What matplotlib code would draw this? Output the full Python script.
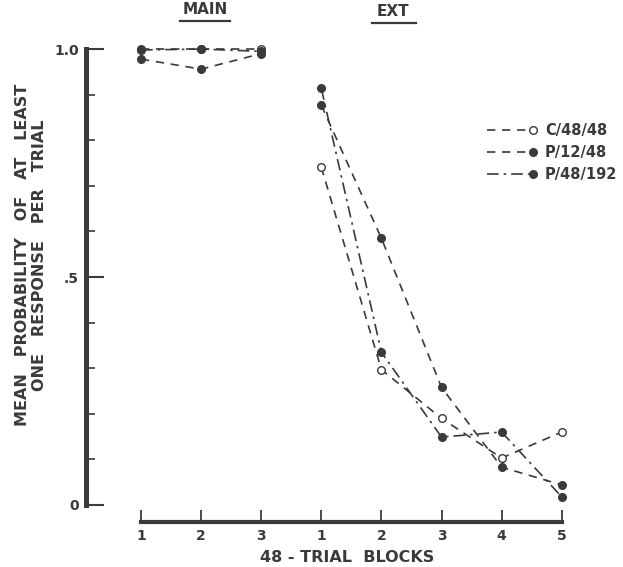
import matplotlib
matplotlib.use("Agg")
import matplotlib.pyplot as plt
from matplotlib.ticker import MultipleLocator

plt.rcParams['font.family'] = ['DejaVu Sans']
plt.rcParams['font.weight'] = 'bold'
plt.rcParams['axes.labelweight'] = 'bold'

INK = "#3a3a3a"

# block positions on the x axis: 3 acquisition blocks then 5 extinction blocks
main_x = [0, 1, 2]
ext_x = [3, 4, 5, 6, 7]
tick_labels = ["1", "2", "3", "1", "2", "3", "4", "5"]

c_48_48_main = [1.0, 1.0, 1.0]
c_48_48_ext = [0.741, 0.297, 0.19, 0.103, 0.16]

p_12_48_main = [0.978, 0.956, 0.99]
p_12_48_ext = [0.877, 0.585, 0.258, 0.083, 0.044]

p_48_192_main = [0.998, 1.0, 0.995]
p_48_192_ext = [0.914, 0.335, 0.149, 0.16, 0.018]

series = [
    ("C/48/48", c_48_48_main, c_48_48_ext, (0, (5, 4)), "white"),
    ("P/12/48", p_12_48_main, p_12_48_ext, (0, (5, 4)), INK),
    ("P/48/192", p_48_192_main, p_48_192_ext, (0, (7, 3, 1.5, 3)), INK),
]

fig = plt.figure(figsize=(6.23, 5.67), dpi=100)
ax = fig.add_axes([0.1347, 0.0772, 0.7862, 0.8684])
ax.set_xlim(-0.95, 7.2)
ax.set_ylim(-0.04, 1.04)

for name, main_vals, ext_vals, ls, face in series:
    for xs, ys in ((main_x, main_vals), (ext_x, ext_vals)):
        ax.plot(xs, ys, linestyle=ls, color=INK, lw=1.2, marker="o",
                markersize=5.5, markerfacecolor=face, markeredgecolor=INK,
                markeredgewidth=1.0, clip_on=False)

# spines
for s in ("top", "right"):
    ax.spines[s].set_visible(False)
ax.spines["left"].set_position(("data", -0.915))
ax.spines["left"].set_bounds(0, 1.0)
ax.spines["left"].set_linewidth(3.6)
ax.spines["left"].set_color(INK)
ax.spines["bottom"].set_position(("data", -0.037))
ax.spines["bottom"].set_bounds(0, 7)
ax.spines["bottom"].set_linewidth(3.0)
ax.spines["bottom"].set_color(INK)

ax.set_yticks([0, 0.5, 1.0])
ax.set_yticklabels(["0", ".5", "1.0"])
ax.yaxis.set_minor_locator(MultipleLocator(0.1))
ax.tick_params(axis="y", which="major", direction="in", length=13, width=1.5,
               color=INK, labelcolor=INK, labelsize=10, pad=5)
ax.tick_params(axis="y", which="minor", direction="in", length=6.5, width=1.2,
               color=INK)

ax.set_xticks(main_x + ext_x)
ax.set_xticklabels(tick_labels)
ax.tick_params(axis="x", direction="in", length=9, width=1.3, color=INK,
               labelcolor=INK, labelsize=10, pad=5)

ax.set_xlabel("48 - TRIAL  BLOCKS", fontsize=11.5, color=INK, va="center")
ax.xaxis.set_label_coords(0.537, -0.07)
ax.set_ylabel("MEAN   PROBABILITY   OF   AT   LEAST\nONE   RESPONSE   PER   TRIAL",
              fontsize=11.5, color=INK, linespacing=1.2, va="center",
              ha="center")
ax.yaxis.set_label_coords(-0.108, 0.545)

# phase headers
fig.text(205 / 623, 1 - 10 / 567, "MAIN", ha="center", va="center",
         fontsize=11, color=INK)
fig.add_artist(plt.Line2D([180 / 623, 230 / 623], [1 - 21 / 567] * 2,
                          color=INK, lw=1.6))
fig.text(393 / 623, 1 - 11 / 567, "EXT", ha="center", va="center",
         fontsize=11, color=INK)
fig.add_artist(plt.Line2D([372 / 623, 416 / 623], [1 - 23 / 567] * 2,
                          color=INK, lw=1.6))

# legend, line with marker on the right end
leg_y = [130, 152, 174]
for (name, _, _, ls, face), py in zip(series, leg_y):
    yf = 1 - py / 567
    fig.add_artist(plt.Line2D([487 / 623, 533 / 623], [yf, yf], color=INK,
                              lw=1.2, linestyle=ls))
    fig.add_artist(plt.Line2D([533 / 623], [yf], marker="o", markersize=5.5,
                              markerfacecolor=face, markeredgecolor=INK,
                              markeredgewidth=1.0, linestyle="none"))
    fig.text(545 / 623, yf, name, ha="left", va="center", fontsize=10.5,
             color=INK)

fig.savefig("out.png", dpi=100)
